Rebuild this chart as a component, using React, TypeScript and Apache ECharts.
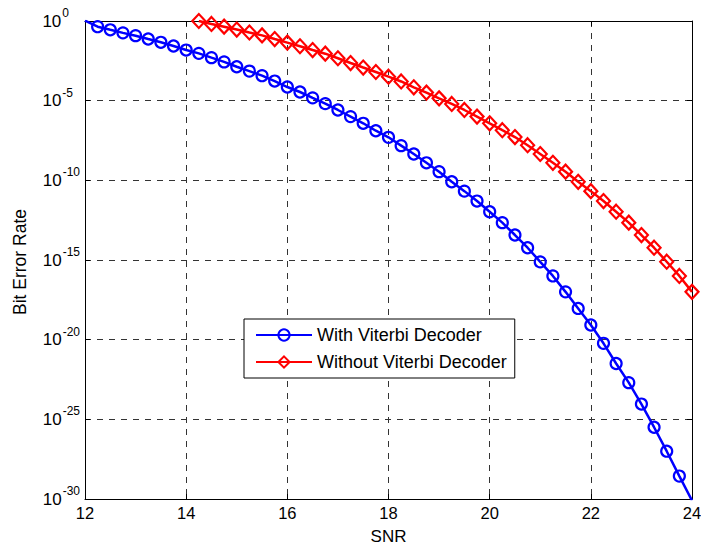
import React, { useEffect, useRef } from "react";
import * as echarts from "echarts";

const snrWith = [
  12, 12.25, 12.5, 12.75, 13, 13.25, 13.5, 13.75, 14, 14.25, 14.5, 14.75,
  15, 15.25, 15.5, 15.75, 16, 16.25, 16.5, 16.75, 17, 17.25, 17.5, 17.75,
  18, 18.25, 18.5, 18.75, 19, 19.25, 19.5, 19.75, 20, 20.25, 20.5, 20.75,
  21, 21.25, 21.5, 21.75, 22, 22.25, 22.5, 22.75, 23, 23.25, 23.5, 23.75, 24,
];
const berWith = [
  1.05, 4.4e-1, 2.8e-1, 1.8e-1, 1.2e-1, 7.4e-2, 4.6e-2, 2.7e-2, 1.5e-2, 9.3e-3,
  5.0e-3, 2.7e-3, 1.35e-3, 7.2e-4, 3.7e-4, 1.7e-4, 7.2e-5, 3.5e-5, 1.5e-5,
  6.5e-6, 2.6e-6, 1.0e-6, 3.8e-7, 1.3e-7, 5.0e-8, 1.5e-8, 4.5e-9, 1.26e-9,
  3.5e-10, 8.1e-11, 2.1e-11, 5.0e-12, 1.07e-12, 2.2e-13, 3.7e-14, 5.9e-15,
  7.6e-16, 1.0e-16, 1.0e-17, 9.1e-19, 8.3e-20, 5.9e-21, 3.2e-22, 2.0e-23,
  9.1e-25, 3.2e-26, 1.0e-27, 2.75e-29, 8e-31,
];

const snrWithout = [
  14.25, 14.5, 14.75, 15, 15.25, 15.5, 15.75, 16, 16.25, 16.5, 16.75, 17,
  17.25, 17.5, 17.75, 18, 18.25, 18.5, 18.75, 19, 19.25, 19.5, 19.75, 20,
  20.25, 20.5, 20.75, 21, 21.25, 21.5, 21.75, 22, 22.25, 22.5, 22.75, 23,
  23.25, 23.5, 23.75, 24,
];
const berWithout = [
  1.0, 6.5e-1, 4.4e-1, 2.9e-1, 1.9e-1, 1.25e-1, 7.4e-2, 4.4e-2, 2.6e-2, 1.5e-2,
  8.9e-3, 4.6e-3, 2.3e-3, 1.2e-3, 6.3e-4, 3.2e-4, 1.6e-4, 6.9e-5, 3.2e-5,
  1.4e-5, 6.2e-6, 2.6e-6, 1.0e-6, 3.8e-7, 1.4e-7, 5.2e-8, 1.6e-8, 4.5e-9,
  1.26e-9, 3.5e-10, 8.1e-11, 2.1e-11, 5.0e-12, 1.07e-12, 2.2e-13, 3.7e-14,
  5.9e-15, 7.8e-16, 1.0e-16, 1.0e-17,
];

const seriesNames = ["With Viterbi Decoder", "Without Viterbi Decoder"];
const xTitle = "SNR";
const yTitle = "Bit Error Rate";
// y-axis range; the tiny offset keeps the 10^-30 tick inside the extent
const yMin = 9.99999e-31;
const yMax = 1;
const yBottomExponent = "-30";

const FONT = "'Liberation Sans', Arial, sans-serif";

export default function App() {
  const ref = useRef<HTMLDivElement>(null);
  useEffect(() => {
    if (!ref.current) return;
    const chart = echarts.init(ref.current, undefined, { renderer: "svg" });
    const gridColor = "#333";
    const supStyle = (padRight: number) => ({
      fontFamily: FONT,
      fontSize: 12,
      color: "#000",
      lineHeight: 12,
      padding: [0, padRight, 16, 1],
    });
    const labelRich = {
      b: { fontFamily: FONT, fontSize: 17, color: "#000", lineHeight: 20 },
      s1: supStyle(11),
      s2: supStyle(7),
      s3: supStyle(0),
    };
    const option: any = {
      animation: false,
      backgroundColor: "#fff",
      textStyle: { fontFamily: FONT },
      grid: { left: 85, right: 9, top: 21, bottom: 51, containLabel: false, outerBoundsMode: "none" },
      graphic: [
        {
          type: "text",
          x: 20,
          y: 262,
          rotation: Math.PI / 2,
          silent: true,
          style: {
            text: yTitle,
            x: 0,
            y: 0,
            align: "center",
            verticalAlign: "middle",
            fontFamily: FONT,
            fontSize: 17.5,
            fill: "#000",
          },
        },
        {
          type: "text",
          x: 80,
          y: 499,
          silent: true,
          z: 10,
          style: {
            text: `{b|10}{s3|${yBottomExponent}}`,
            rich: labelRich,
            align: "right",
            verticalAlign: "middle",
            fontFamily: FONT,
            fill: "#000",
          },
        },
      ],
      legend: {
        orient: "vertical",
        left: 244,
        top: 319,
        padding: [6, 8, 6, 11],
        itemGap: 7,
        itemWidth: 56,
        itemHeight: 14,
        backgroundColor: "#fff",
        borderColor: "#000",
        borderWidth: 1,
        borderRadius: 0,
        textStyle: { fontFamily: FONT, fontSize: 18, color: "#000", lineHeight: 20 },
        data: seriesNames,
      },
      xAxis: [
        {
          type: "value",
          min: 12,
          max: 24,
          interval: 2,
          name: xTitle,
          nameLocation: "middle",
          nameGap: 29,
          nameTextStyle: { fontFamily: FONT, fontSize: 17, color: "#000" },
          axisLine: { show: true, lineStyle: { color: "#000", width: 1 } },
          axisTick: { show: true, inside: true, length: 5, lineStyle: { color: "#000" } },
          axisLabel: {
            fontFamily: FONT,
            fontSize: 16.5,
            color: "#000",
            margin: 5,
            showMinLabel: true,
            showMaxLabel: true,
            hideOverlap: false,
          },
          splitLine: { show: true, lineStyle: { color: gridColor, type: [6, 6], width: 1 } },
        },
        {
          type: "value",
          position: "top",
          min: 12,
          max: 24,
          interval: 2,
          axisLine: { show: true, onZero: false, lineStyle: { color: "#000", width: 1 } },
          axisTick: { show: true, inside: true, length: 5, lineStyle: { color: "#000" } },
          axisLabel: { show: false },
          splitLine: { show: false },
        },
      ],
      yAxis: [
        {
          type: "log",
          logBase: 10,
          min: yMin,
          max: yMax,
          interval: 5,
          axisLine: { show: true, lineStyle: { color: "#000", width: 1 } },
          axisTick: { show: true, inside: true, length: 5, lineStyle: { color: "#000" } },
          minorTick: { show: false },
          axisLabel: {
            margin: 5,
            align: "right",
            showMinLabel: false,
            showMaxLabel: true,
            hideOverlap: false,
            formatter: (v: number) => {
              const e = Math.round(Math.log10(v));
              const s = String(e);
              if (s === yBottomExponent) return "";
              const key = s.length === 1 ? "s1" : s.length === 2 ? "s2" : "s3";
              return `{b|10}{${key}|${s}}`;
            },
            rich: labelRich,
          },
          splitLine: { show: true, lineStyle: { color: gridColor, type: [6, 6], width: 1 } },
        },
        {
          type: "log",
          logBase: 10,
          position: "right",
          min: yMin,
          max: yMax,
          interval: 5,
          axisLine: { show: true, onZero: false, lineStyle: { color: "#000", width: 1 } },
          axisTick: { show: true, inside: true, length: 5, lineStyle: { color: "#000" } },
          axisLabel: { show: false },
          splitLine: { show: false },
        },
      ],
      series: [
        {
          name: seriesNames[0],
          type: "line",
          xAxisIndex: 0,
          yAxisIndex: 0,
          data: snrWith.map((x, i) => [x, berWith[i]]),
          color: "#0000ff",
          symbol: "circle",
          symbolSize: 11,
          showAllSymbol: true,
          clip: true,
          lineStyle: { color: "#0000ff", width: 2.5 },
          itemStyle: { color: "rgba(0,0,0,0)", borderColor: "#0000ff", borderWidth: 2.2 },
          emphasis: { disabled: true },
          z: 3,
        },
        {
          name: seriesNames[1],
          type: "line",
          xAxisIndex: 0,
          yAxisIndex: 0,
          data: snrWithout.map((x, i) => [x, berWithout[i]]),
          color: "#ff0000",
          symbol: "diamond",
          symbolSize: [13, 14],
          showAllSymbol: true,
          clip: true,
          lineStyle: { color: "#ff0000", width: 2.5 },
          itemStyle: { color: "rgba(0,0,0,0)", borderColor: "#ff0000", borderWidth: 2.2 },
          emphasis: { disabled: true },
          z: 3,
        },
      ],
    };
    chart.setOption(option);
    return () => chart.dispose();
  }, []);
  return (
    <div
      ref={ref}
      style={{ position: "fixed", left: 0, top: 0, width: 701, height: 550, background: "#fff" }}
    />
  );
}
